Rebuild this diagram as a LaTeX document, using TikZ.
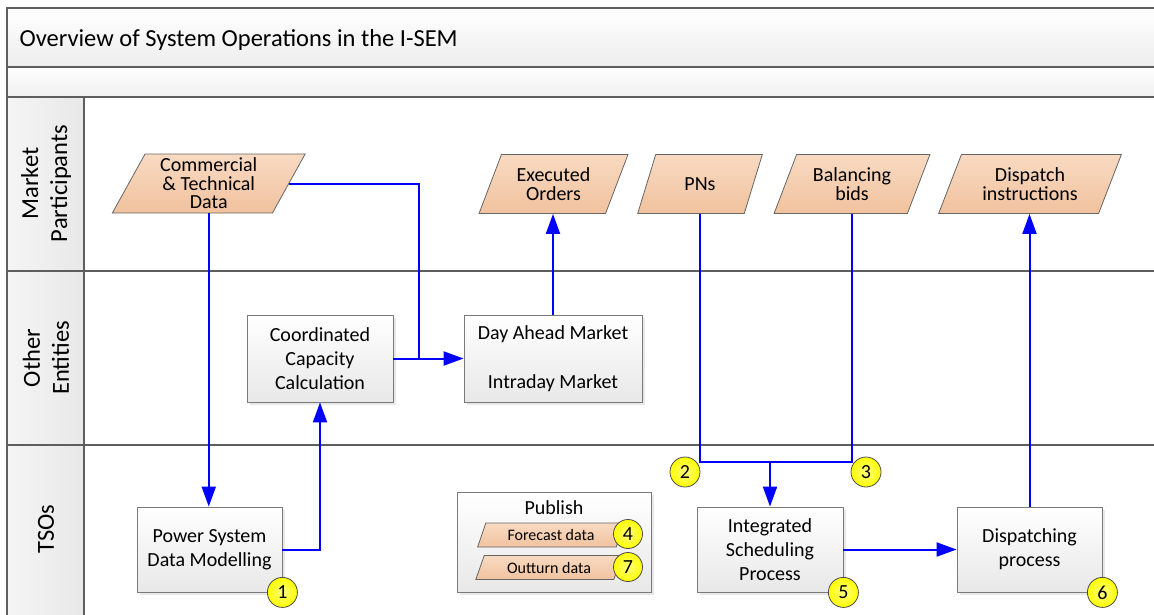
\documentclass[tikz,border=0pt]{standalone}
\usepackage{fontspec}
\setmainfont{Carlito}
\usetikzlibrary{shapes.geometric,arrows.meta,shadows}
\definecolor{framec}{HTML}{5E5E5E}
\definecolor{boxline}{HTML}{7A7A7A}
\definecolor{peachT}{HTML}{F8DAC2}
\definecolor{peachB}{HTML}{F1C29E}
\definecolor{flowc}{HTML}{0000FF}
\definecolor{yel}{HTML}{FFFF00}
\definecolor{yelL}{HTML}{FFFF80}
\begin{document}
\begin{tikzpicture}[x=1pt,y=-1pt,
  framel/.style={draw=framec, line width=1.6pt},
  procbox/.style={draw=boxline, line width=0.8pt, top color=white, bottom color=black!9,
    align=center, inner sep=2pt, font=\fontsize{20}{24}\selectfont,
    drop shadow={shadow xshift=2.5pt, shadow yshift=-2.5pt, fill=black!18}},
  iobox/.style={trapezium, trapezium left angle=64, trapezium right angle=116,
    trapezium stretches=true, draw=black!60, line width=0.8pt,
    top color=peachT, bottom color=peachB, align=center, inner sep=0pt,
    font=\fontsize{20}{18.5}\selectfont},
  iosmall/.style={iobox, font=\fontsize{16}{18}\selectfont},
  numc/.style={circle, draw=black!70, line width=0.8pt, inner color=yelL, outer color=yel,
    minimum size=30pt, inner sep=0pt, font=\fontsize{20}{22}\selectfont},
  lane/.style={rotate=90, align=center, font=\fontsize{24.5}{29}\selectfont},
  flow/.style={draw=flowc, line width=2pt},
  flowa/.style={flow, -{Triangle[length=20pt,width=14pt]}}
]
\useasboundingbox (0,0) rectangle (1154,614);

% frame backgrounds
\path[top color=white, bottom color=black!7] (7,8) rectangle (1165,67);
\path[top color=white, bottom color=black!6] (7,67) rectangle (1165,97);
\path[left color=black!4, right color=black!9] (7,97) rectangle (84,620);

% frame lines
\draw[framel] (1165,8) -- (7,8) -- (7,620);
\draw[framel] (7,67) -- (1165,67);
\draw[framel] (7,97) -- (1165,97);
\draw[framel] (84,97) -- (84,620);
\draw[framel] (7,271) -- (1165,271);
\draw[framel] (7,445) -- (1165,445);

% title and lane labels
\node[anchor=west, font=\fontsize{24.5}{28}\selectfont] (title) at (16,40) {Overview of System Operations in the I-SEM};
\node[lane] (lMP) at (46,183.5) {Market\\Participants};
\node[lane] (lOE) at (46,358) {Other\\Entities};
\node[lane] (lTS) at (46,529) {TSOs};

% data (parallelograms)
\node[iobox, minimum width=193pt, minimum height=59pt] (comm) at (208.75,183.5) {Commercial\\\& Technical\\Data};
\node[iobox, minimum width=149pt, minimum height=59pt] (exo) at (553.5,184) {Executed\\Orders};
\node[iobox, minimum width=125pt, minimum height=59pt] (pns) at (700,184) {PNs};
\node[iobox, minimum width=156pt, minimum height=59pt] (bal) at (852,184) {Balancing\\bids};
\node[iobox, minimum width=183pt, minimum height=59pt] (dsi) at (1030,184) {Dispatch\\instructions};

% process boxes
\node[procbox, minimum width=146pt, minimum height=87pt] (ccc) at (320,358.5) {Coordinated\\Capacity\\Calculation};
\node[procbox, minimum width=178pt, minimum height=87pt] (dam) at (553,358.5) {Day Ahead Market\\[25pt]Intraday Market};
\node[procbox, minimum width=145pt, minimum height=85pt] (psd) at (209.5,549.5) {Power System\\Data Modelling};
\node[procbox, minimum width=146pt, minimum height=85pt] (isp) at (770,549.5) {Integrated\\Scheduling\\Process};
\node[procbox, minimum width=145pt, minimum height=85pt] (dsp) at (1029.5,549.5) {Dispatching\\process};

% publish box
\node[procbox, minimum width=194pt, minimum height=100pt] (pub) at (554,542) {};
\node[font=\fontsize{20}{22}\selectfont] (publbl) at (554,508) {Publish};
\node[iosmall, minimum width=147pt, minimum height=24pt] (fcd) at (551,535) {Forecast data};
\node[iosmall, minimum width=147pt, minimum height=24pt] (otd) at (549,567.5) {Outturn data};

% connectors
\coordinate (jC) at (419,358.5);
\coordinate (jS) at (770,462);
\draw[flowa] (comm.south) -- (comm.south |- psd.north);
\draw[flow] (comm.east) -| (jC);
\draw[flowa] (ccc.east) -- (dam.west);
\draw[flowa] (psd.east) -| (ccc.south);
\draw[flowa] (dam.north) -- (dam.north |- exo.south);
\draw[flow] (pns.south) |- (bal.south |- jS) -- (bal.south);
\draw[flowa] (jS) -- (isp.north);
\draw[flowa] (isp.east) -- (dsp.west);
\draw[flowa] (dsp.north) -- (dsp.north |- dsi.south);

% numbered markers
\node[numc] (n1) at (psd.south east) {1};
\node[numc] (n2) at (685,472) {2};
\node[numc] (n3) at (866,472) {3};
\node[numc, minimum size=29pt] (n4) at (628,534) {4};
\node[numc] (n5) at (isp.south east) {5};
\node[numc] (n6) at (dsp.south east) {6};
\node[numc, minimum size=29pt] (n7) at (628,567) {7};
\end{tikzpicture}
\end{document}
